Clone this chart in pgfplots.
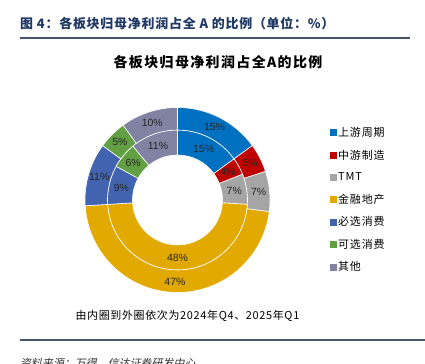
\documentclass[border=0pt]{standalone}
\usepackage{fontspec}
\setmainfont{Liberation Sans}
\newfontfamily\cjk{Noto Sans CJK SC}
\newfontfamily\cjki{Noto Sans CJK SC}[FakeSlant=0.2]
\usepackage{pgfplots}
\pgfplotsset{compat=1.18}
\usepackage{pgfplotstable}

\definecolor{col0}{HTML}{0070C0}
\definecolor{col1}{HTML}{C00000}
\definecolor{col2}{HTML}{A5A5A5}
\definecolor{col3}{HTML}{E2AA00}
\definecolor{col4}{HTML}{4264B0}
\definecolor{col5}{HTML}{62A043}
\definecolor{col6}{HTML}{8282A2}
\definecolor{hdr}{HTML}{1F3864}
\definecolor{rule}{HTML}{44546A}

% inner ring = 2024Q4, outer ring = 2025Q1 (%)
\pgfplotstableread{
idx inner outer
0 15 15
1 4 5
2 7 7
3 48 47
4 9 11
5 6 5
6 11 10
}\data

\newcommand\ringwedge[5]{% outer r, inner r, from %, to %, colour
  \fill[#5,draw=white,line width=0.6bp]
   ({90-3.6*#3}:#1bp) arc[start angle={90-3.6*#3}, end angle={90-3.6*#4}, radius=#1bp]
   -- ({90-3.6*#4}:#2bp) arc[start angle={90-3.6*#4}, end angle={90-3.6*#3}, radius=#2bp] -- cycle;}

\begin{document}
\begin{tikzpicture}[x=1bp,y=1bp]
\path[use as bounding box] (0,0) rectangle (425,364);
\clip (0,0) rectangle (425,364);

\node[anchor=west,text=hdr,inner sep=0pt] at (20,340.5)
  {\cjk\bfseries\fontsize{13}{15}\selectfont\addfontfeatures{LetterSpace=6}图 4：各板块归母净利润占全 A 的比例（单位：\%）};
\draw[rule,line width=2bp] (20,326) -- (410,326);
\node[inner sep=0pt] at (218,302)
  {\cjk\bfseries\fontsize{14}{16}\selectfont\addfontfeatures{LetterSpace=10}各板块归母净利润占全A的比例};

\begin{axis}[hide axis, x=1bp, y=1bp, xmin=-100, xmax=100, ymin=-100, ymax=100,
  anchor=origin, at={(177.5bp,164bp)}, clip=false,
  legend style={at={(axis description cs:1.26,0.875)}, anchor=north west, draw=none,
    fill=none, font=\cjk\fontsize{11}{13}\selectfont\addfontfeatures{LetterSpace=8},
    row sep=7.9bp, inner sep=0pt, cells={anchor=west}},
  legend image code/.code={\fill[#1] (0bp,-3bp) rectangle (6bp,3bp);}]
\addlegendimage{col0}\addlegendentry{上游周期}
\addlegendimage{col1}\addlegendentry{中游制造}
\addlegendimage{col2}\addlegendentry{TMT}
\addlegendimage{col3}\addlegendentry{金融地产}
\addlegendimage{col4}\addlegendentry{必选消费}
\addlegendimage{col5}\addlegendentry{可选消费}
\addlegendimage{col6}\addlegendentry{其他}
\pgfplotsextra{
  \begin{scope}[shift={(axis cs:0,0)}]
  \gdef\cumA{0}\gdef\cumB{0}
  \foreach \i in {0,...,6}{
    \pgfplotstablegetelem{\i}{inner}\of\data \let\v\pgfplotsretval
    \pgfmathsetmacro\a{\cumA}\pgfmathsetmacro\b{\cumA+\v}
    \ringwedge{70}{45}{\a}{\b}{col\i}
    \pgfmathsetmacro\m{90-1.8*(\a+\b)}
    \node[font=\fontsize{10.5}{12}\selectfont,text=black!85] at (\m:57.5bp) {\v\%};
    \xdef\cumA{\b}
    \pgfplotstablegetelem{\i}{outer}\of\data \let\w\pgfplotsretval
    \pgfmathsetmacro\c{\cumB}\pgfmathsetmacro\d{\cumB+\w}
    \ringwedge{92.5}{70}{\c}{\d}{col\i}
    \pgfmathsetmacro\n{90-1.8*(\c+\d)}
    \node[font=\fontsize{10.5}{12}\selectfont,text=black!85] at (\n:81.5bp) {\w\%};
    \xdef\cumB{\d}
  }
  \end{scope}
}
\end{axis}

\node[inner sep=0pt] at (187.5,48)
  {\cjk\fontsize{11}{13}\selectfont\addfontfeatures{LetterSpace=6}由内圈到外圈依次为2024年Q4、2025年Q1};
\draw[rule,line width=2bp] (20,24) -- (425,24);
\node[anchor=west,inner sep=0pt,text=black!80] at (20,0.5)
  {\cjki\fontsize{11}{13}\selectfont 资料来源：万得，信达证券研发中心};
\end{tikzpicture}
\end{document}
